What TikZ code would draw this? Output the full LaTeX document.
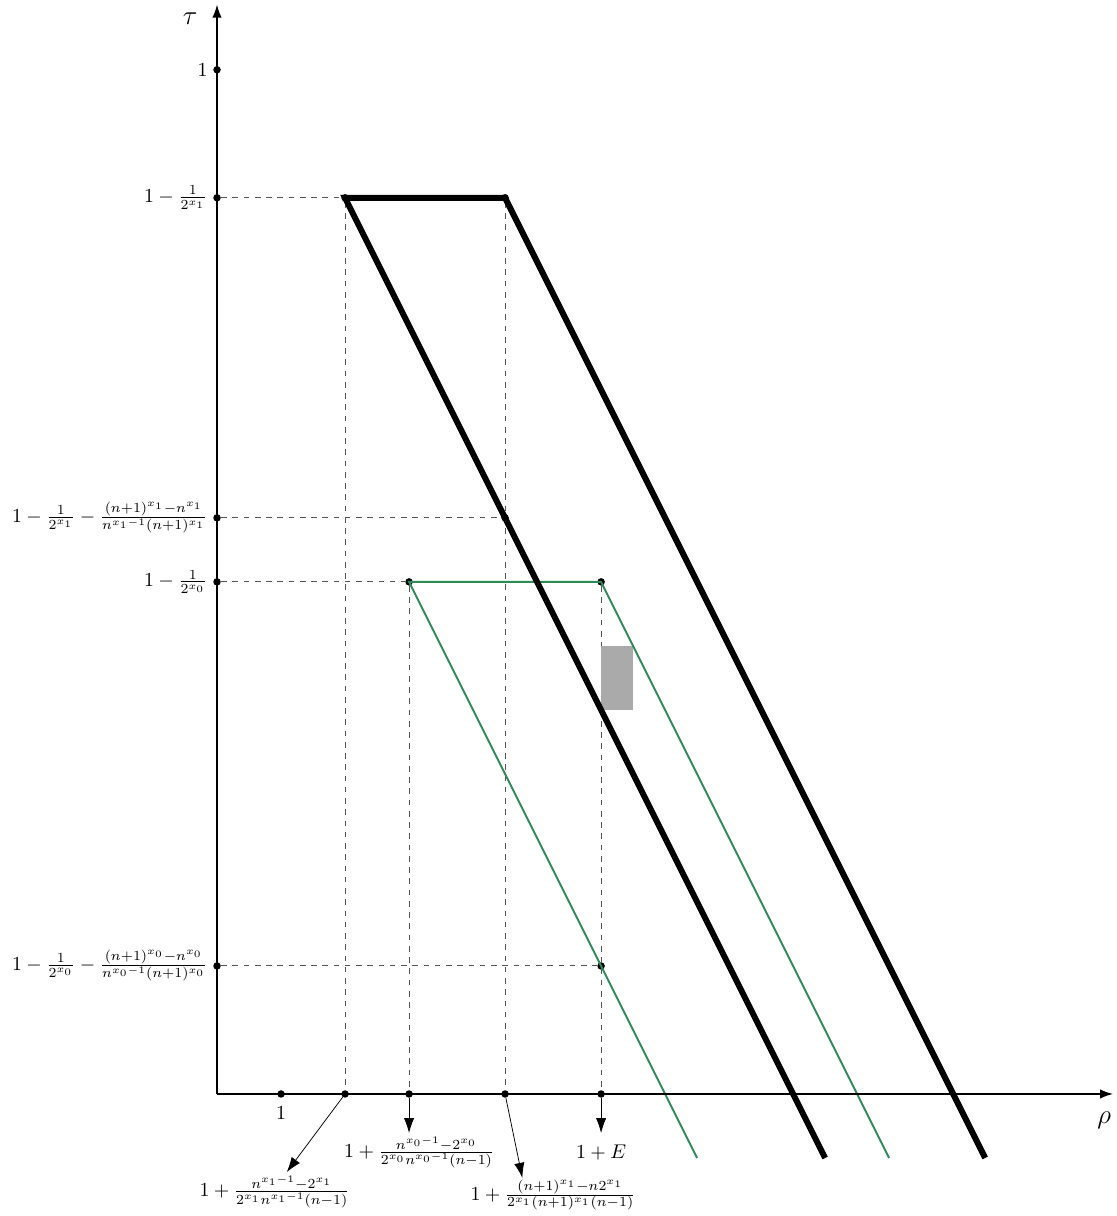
\documentclass[tikz,border=0pt]{standalone}
\usepackage{amsmath}
\usepackage{amssymb}
\usepackage{xcolor}
\usetikzlibrary{positioning, arrows.meta}
\definecolor{regionline}{HTML}{2E8B57}
\definecolor{regionfill}{HTML}{AAAAAA}
\definecolor{guideline}{HTML}{555555}

\begin{document}
\begin{tikzpicture}[x=1.2cm, y=1.2cm, >={Latex[length=8pt, width=5.5pt]},
                    every node/.style={black}]
  \tikzset{
    dot/.style={circle, fill=black, inner sep=0pt, minimum size=4pt},
    lbl/.style={scale=1.06, inner sep=2pt},
    guide/.style={guideline, line width=0.5pt, dashed},
    bigband/.style={black, line width=3.2pt},
    smallband/.style={regionline, line width=1pt},
    axis/.style={black, line width=0.9pt, -{Latex[length=7pt, width=5pt]}}
  }
  \useasboundingbox (-3.39,-1.906) rectangle (14.05,17.09);

  %% points on the tau axis
  \node[dot] (t1) at (0,16) {};
  \node[dot] (tA) at (0,14) {};
  \node[dot] (tB) at (0,9) {};
  \node[dot] (tC) at (0,8) {};
  \node[dot] (tD) at (0,2) {};

  %% points on the rho axis
  \node[dot] (r1) at (1,0) {};
  \node[dot] (rA) at (2,0) {};
  \node[dot] (rB) at (3,0) {};
  \node[dot] (rC) at (4.5,0) {};
  \node[dot] (rD) at (6,0) {};

  %% corners
  \node[dot] (pA) at (2,14) {};
  \node[dot] (pB) at (4.5,14) {};
  \node[dot] (pC) at (3,8) {};
  \node[dot] (pD) at (6,8) {};
  \node[dot] (qB) at (4.5,9) {};
  \node[dot] (qD) at (6,2) {};

  %% dashed guides
  \draw[guide] (tA) -- (pA);
  \draw[guide] (tB) -- (qB);
  \draw[guide] (tC) -- (pC);
  \draw[guide] (tD) -- (qD);
  \draw[guide] (pA) -- (rA);
  \draw[guide] (pB) -- (rC);
  \draw[guide] (pC) -- (rB);
  \draw[guide] (pD) -- (rD);

  %% shaded box
  \fill[regionfill] (6,6) rectangle (6.5,7);

  %% green band
  \coordinate (gC) at (7.5,-1);
  \coordinate (gD) at (10.5,-1);
  \draw[smallband] (gC) -- (pC.center) -- (pD.center) -- (gD);

  %% black band
  \coordinate (bA) at (9.5,-1);
  \coordinate (bB) at (12,-1);
  \draw[bigband] (bA) -- (pA.center) -- (pB.center) -- (bB);

  %% axes
  \coordinate (o) at (0,0);
  \coordinate (xend) at (14,0);
  \coordinate (yend) at (0,17.02);
  \draw[axis] (o) -- (xend);
  \draw[axis] (o) -- (yend);
  \node (rho) at (13.86,-0.41) {\Large$\rho$};
  \node (tau) at (-0.42,16.8) {\Large$\tau$};

  %% tau labels
  \node[lbl, left=0.5pt of t1] (l1) {$1$};
  \node[lbl, left=0.5pt of tA] (lA) {$1-\frac{1}{2^{x_1}}$};
  \node[lbl, left=0.5pt of tB] (lB) {$1-\frac{1}{2^{x_1}}-\frac{(n+1)^{x_1}-n^{x_1}}{n^{x_1-1}(n+1)^{x_1}}$};
  \node[lbl, left=0.5pt of tC] (lC) {$1-\frac{1}{2^{x_0}}$};
  \node[lbl, left=0.5pt of tD] (lD) {$1-\frac{1}{2^{x_0}}-\frac{(n+1)^{x_0}-n^{x_0}}{n^{x_0-1}(n+1)^{x_0}}$};

  %% rho labels
  \node[lbl, below=2pt of r1] (m1) {$1$};
  \node[lbl] (mA) at (0.9,-1.53) {$1+\frac{n^{x_1-1}-2^{x_1}}{2^{x_1}n^{x_1-1}(n-1)}$};
  \node[lbl] (mB) at (3.16,-0.91) {$1+\frac{n^{x_0-1}-2^{x_0}}{2^{x_0}n^{x_0-1}(n-1)}$};
  \node[lbl] (mC) at (5.25,-1.58) {$1+\frac{(n+1)^{x_1}-n2^{x_1}}{2^{x_1}(n+1)^{x_1}(n-1)}$};
  \node[lbl] (mD) at (6,-0.92) {$1+E$};

  \coordinate (aA) at (1.09,-1.22);
  \coordinate (aB) at (3,-0.61);
  \coordinate (aC) at (4.77,-1.31);
  \coordinate (aD) at (6,-0.61);
  \draw[->] (rA) -- (aA);
  \draw[->] (rB) -- (aB);
  \draw[->] (rC) -- (aC);
  \draw[->] (rD) -- (aD);

\end{tikzpicture}
\end{document}
